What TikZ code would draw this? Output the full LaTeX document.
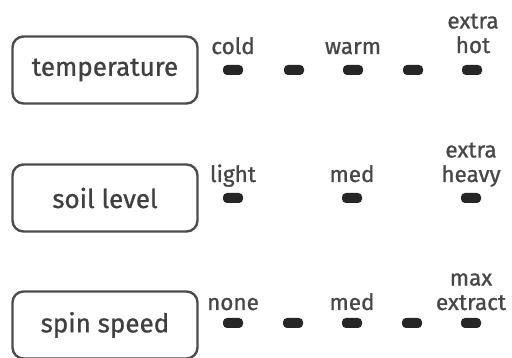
\documentclass[tikz,border=0pt]{standalone}
\usepackage{fontspec}
\setmainfont{Fira Sans}[FakeBold=0.9]
\begin{document}
\begin{tikzpicture}[x=1pt,y=-1pt,
  boxlab/.style={draw=black!70,line width=2.4pt,rounded corners=11pt,minimum width=185pt,minimum height=67pt,text=black!75,font=\fontsize{26}{28}\selectfont,inner sep=0pt},
  led/.style={fill=black!85,rounded corners=4pt,minimum width=20pt,minimum height=10pt,inner sep=0pt},
  lab/.style={text=black!72,font=\fontsize{22.5}{24.5}\selectfont,align=center,inner sep=0pt,anchor=base}]
\useasboundingbox (0,0) rectangle (512,358);
% temperature
\node[boxlab] (t) at (105,70) {temperature};
\foreach \i/\x in {1/233,2/294,3/353,4/413,5/472}{\node[led] (t\i) at (\x,70) {};}
\node[lab] (tl1) at (233,54) {cold};
\node[lab] (tl3) at (353,54) {warm};
\node[lab] (tl5) at (473,53) {extra\\hot};
% soil
\node[boxlab] (s) at (105,198) {soil level};
\foreach \i/\x in {1/233,3/352,5/471}{\node[led] (s\i) at (\x,198) {};}
\node[lab] (sl1) at (233,182) {light};
\node[lab] (sl3) at (352,182) {med};
\node[lab] (sl5) at (471,182) {extra\\heavy};
% spin
\node[boxlab] (p) at (105,325) {spin speed};
\foreach \i/\x in {1/233,2/293,3/352,4/412,5/471}{\node[led] (p\i) at (\x,323) {};}
\node[lab] (pl1) at (233,310) {none};
\node[lab] (pl3) at (352,310) {med};
\node[lab] (pl5) at (471,310) {max\\extract};
\end{tikzpicture}
\end{document}
